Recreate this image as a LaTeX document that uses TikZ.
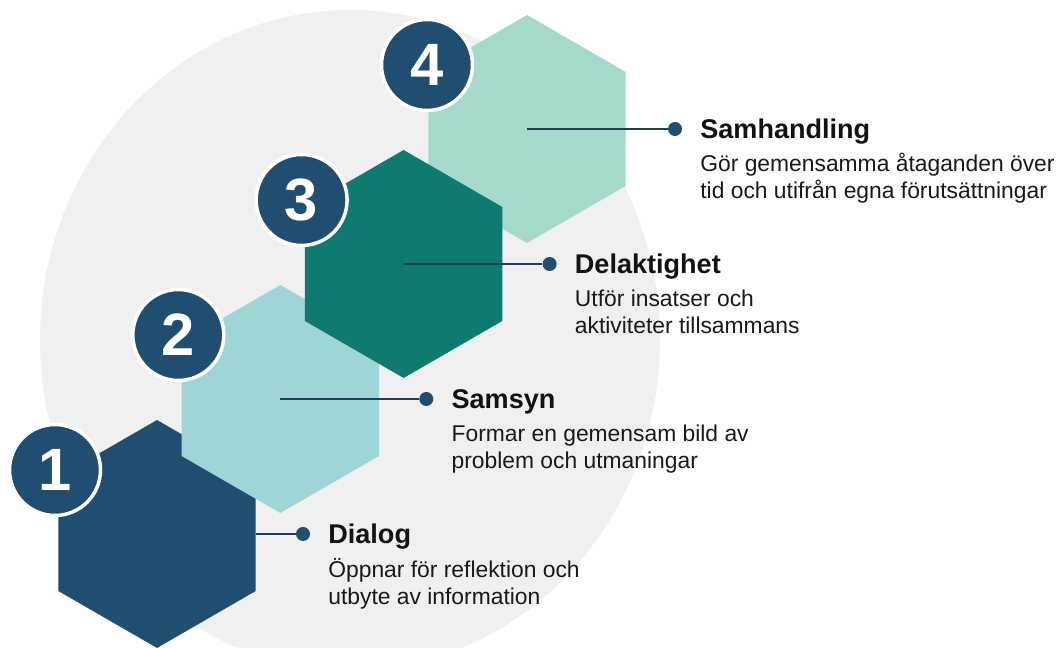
\documentclass[tikz,border=0pt]{standalone}
\usepackage{fontspec}
\setmainfont{Liberation Sans}
\usetikzlibrary{shapes.geometric,calc,positioning}
\definecolor{navy}{RGB}{31,78,112}
\definecolor{paleteal}{RGB}{160,213,215}
\definecolor{deepteal}{RGB}{14,122,112}
\definecolor{mint}{RGB}{166,217,205}
\definecolor{bggrey}{RGB}{240,240,240}
\definecolor{linkcol}{RGB}{30,62,88}
\begin{document}
\begin{tikzpicture}[x=0.02cm,y=0.02cm,
      hexa/.style={regular polygon,regular polygon sides=6,
        shape border rotate=30,minimum size=4.56cm,
        inner sep=0pt,outer sep=0pt},
      num/.style={circle,fill=navy,draw=white,line width=2pt,
        minimum size=1.82cm,inner sep=0pt,text=white,
        font=\fontsize{34}{34}\selectfont\bfseries},
      dot/.style={circle,fill=navy,minimum size=0.28cm,inner sep=0pt},
      link/.style={draw=linkcol,line width=1.1pt},
      ttl/.style={inner sep=0pt,text=black!93,
        font=\fontsize{15.4}{18}\selectfont\bfseries},
      dsc/.style={inner sep=0pt,align=left,text=black!90,
        font=\fontsize{13}{15.4}\selectfont}]
      \useasboundingbox (0,0) rectangle (1062,648);
      % pale disc behind the steps
      \begin{scope}
       \clip (0,0) rectangle (1062,648);
       \fill[bggrey] (350,308) ellipse[x radius=310,y radius=330];
      \end{scope}
      % hexagons, 3 lies over 4
      \node[hexa,fill=navy] (h1) at (157,114) {};
      \node[hexa,fill=paleteal] (h2) at (280.3,249) {};
      \node[hexa,fill=mint] (h4) at (527,519) {};
      \node[hexa,fill=deepteal] (h3) at (403.6,384) {};
      % dots and links
      \node[dot] (d1) at ($(h1.center)+(146,0)$) {};
      \node[dot] (d2) at ($(h2.center)+(146,0)$) {};
      \node[dot] (d3) at ($(h3.center)+(146,0)$) {};
      \node[dot] (d4) at ($(h4.center)+(148,0)$) {};
      \draw[link] (h1.east) -- (d1);
      \draw[link] (h2.center) -- (d2);
      \draw[link] (h3.center) -- (d3);
      \draw[link] (h4.center) -- (d4);
      % numbers
      \node[num] (n1) at ($(h1.center)+(-102,64)$) {1};
      \node[num] (n2) at ($(h2.center)+(-102,64)$) {2};
      \node[num] (n3) at ($(h3.center)+(-102,64)$) {3};
      \node[num] (n4) at ($(h4.center)+(-100,64)$) {4};
      % labels
      \node[ttl,anchor=base west] (t1) at ($(d1)+(25,-10)$) {Dialog};
      \node[dsc,anchor=north west] (s1) at ($(t1.base west)+(0,-14)$)
        {\strut Öppnar för reflektion och\\utbyte av information};
      \node[ttl,anchor=base west] (t2) at ($(d2)+(25,-10)$) {Samsyn};
      \node[dsc,anchor=north west] (s2) at ($(t2.base west)+(0,-13)$)
        {\strut Formar en gemensam bild av\\problem och utmaningar};
      \node[ttl,anchor=base west] (t3) at ($(d3)+(25,-10)$) {Delaktighet};
      \node[dsc,anchor=north west] (s3) at ($(t3.base west)+(0,-13)$)
        {\strut Utför insatser och\\aktiviteter tillsammans};
      \node[ttl,anchor=base west] (t4) at ($(d4)+(25,-10)$) {Samhandling};
      \node[dsc,anchor=north west] (s4) at ($(t4.base west)+(0,-13)$)
        {\strut Gör gemensamma åtaganden över\\tid och utifrån egna förutsättningar};
\end{tikzpicture}
\end{document}
